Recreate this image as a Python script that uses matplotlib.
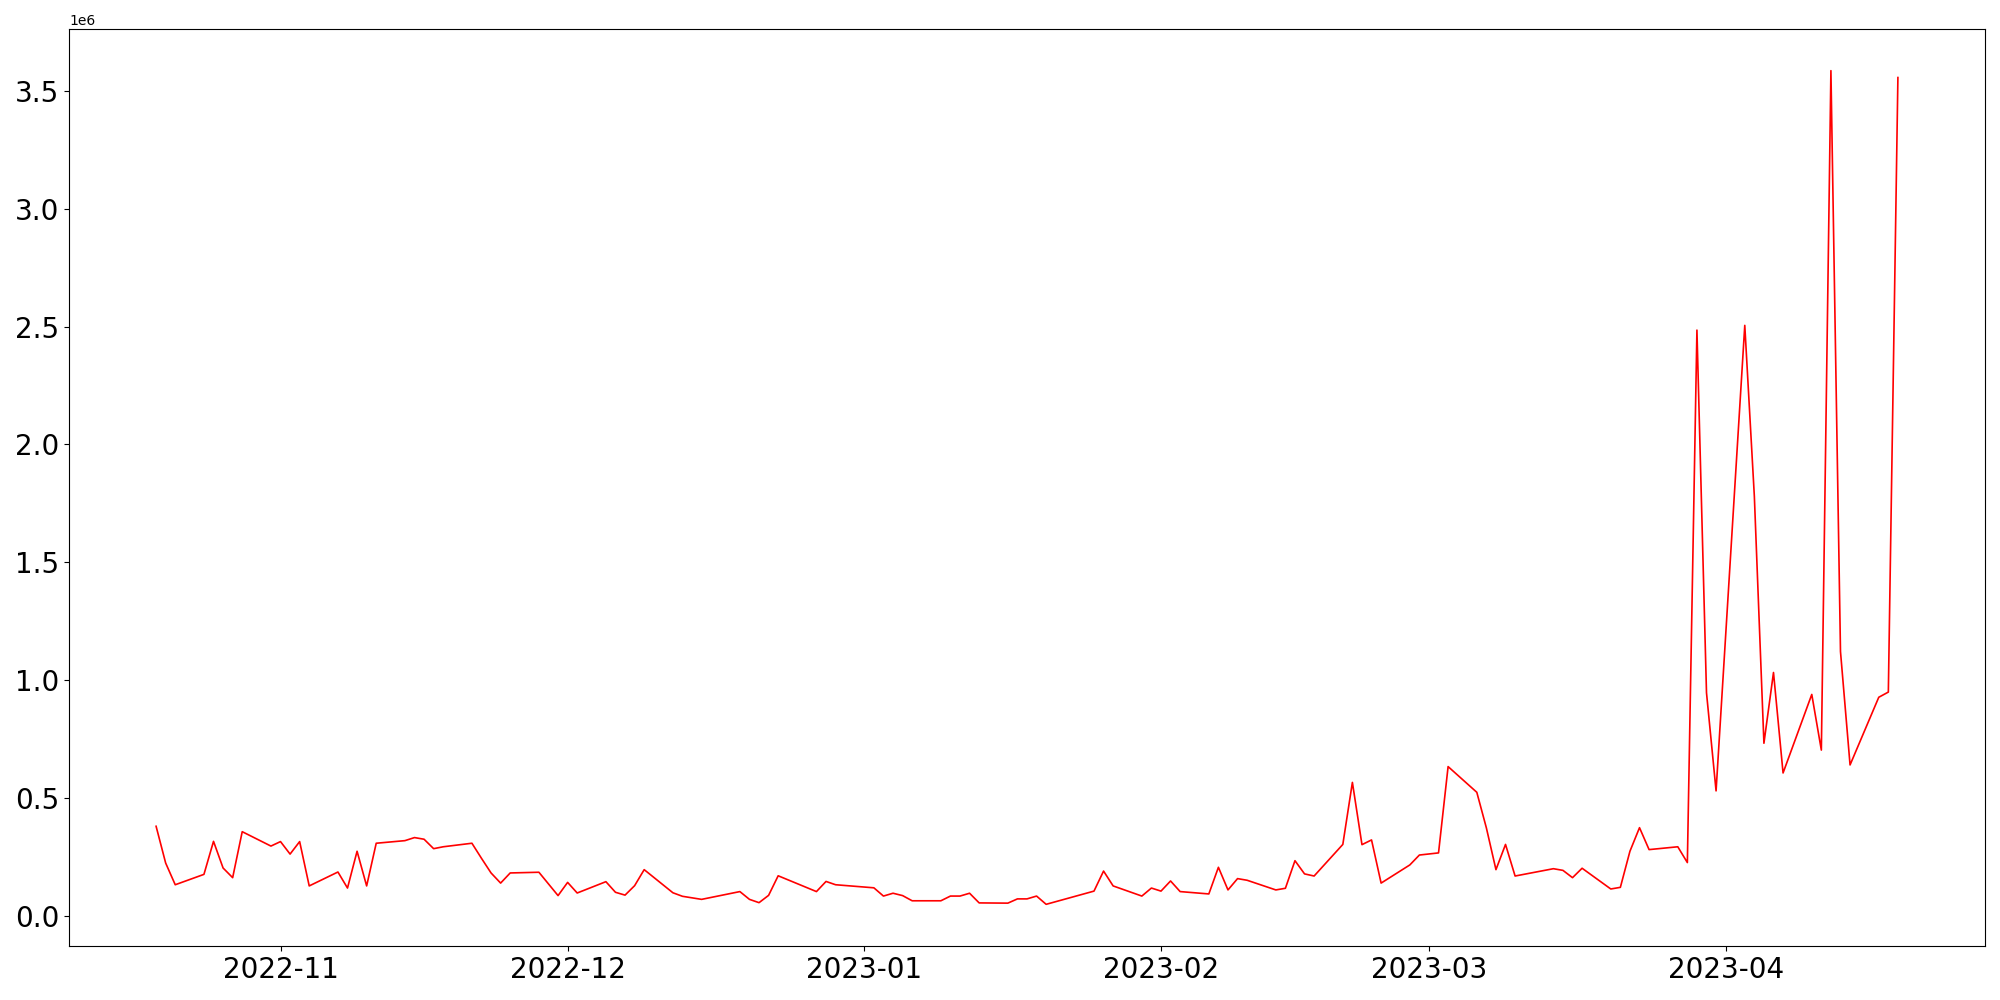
import numpy as np
import pandas as pd
import matplotlib
matplotlib.use("Agg")
import matplotlib.pyplot as plt

dates = [
    "2022-10-19", "2022-10-20", "2022-10-21", "2022-10-24", "2022-10-25", "2022-10-26",
    "2022-10-27", "2022-10-28", "2022-10-31", "2022-11-01", "2022-11-02", "2022-11-03",
    "2022-11-04", "2022-11-07", "2022-11-08", "2022-11-09", "2022-11-10", "2022-11-11",
    "2022-11-14", "2022-11-15", "2022-11-16", "2022-11-17", "2022-11-18", "2022-11-21",
    "2022-11-22", "2022-11-23", "2022-11-24", "2022-11-25", "2022-11-28", "2022-11-30",
    "2022-12-01", "2022-12-02", "2022-12-05", "2022-12-06", "2022-12-07", "2022-12-08",
    "2022-12-09", "2022-12-12", "2022-12-13", "2022-12-15", "2022-12-19", "2022-12-20",
    "2022-12-21", "2022-12-22", "2022-12-23", "2022-12-27", "2022-12-28", "2022-12-29",
    "2023-01-02", "2023-01-03", "2023-01-04", "2023-01-05", "2023-01-06", "2023-01-09",
    "2023-01-10", "2023-01-11", "2023-01-12", "2023-01-13", "2023-01-16", "2023-01-17",
    "2023-01-18", "2023-01-19", "2023-01-20", "2023-01-25", "2023-01-26", "2023-01-27",
    "2023-01-30", "2023-01-31", "2023-02-01", "2023-02-02", "2023-02-03", "2023-02-06",
    "2023-02-07", "2023-02-08", "2023-02-09", "2023-02-10", "2023-02-13", "2023-02-14",
    "2023-02-15", "2023-02-16", "2023-02-17", "2023-02-20", "2023-02-21", "2023-02-22",
    "2023-02-23", "2023-02-24", "2023-02-27", "2023-02-28", "2023-03-02", "2023-03-03",
    "2023-03-06", "2023-03-07", "2023-03-08", "2023-03-09", "2023-03-10", "2023-03-14",
    "2023-03-15", "2023-03-16", "2023-03-17", "2023-03-20", "2023-03-21", "2023-03-22",
    "2023-03-23", "2023-03-24", "2023-03-27", "2023-03-28", "2023-03-29", "2023-03-30",
    "2023-03-31", "2023-04-03", "2023-04-04", "2023-04-05", "2023-04-06", "2023-04-07",
    "2023-04-10", "2023-04-11", "2023-04-12", "2023-04-13", "2023-04-14", "2023-04-17",
    "2023-04-18", "2023-04-19",
]

# valores em milhoes
valores = [
    0.381, 0.225, 0.133, 0.177, 0.317, 0.204,
    0.163, 0.358, 0.297, 0.316, 0.263, 0.316,
    0.128, 0.187, 0.119, 0.275, 0.128, 0.309,
    0.320, 0.333, 0.326, 0.286, 0.294, 0.309,
    0.245, 0.183, 0.140, 0.183, 0.186, 0.087,
    0.143, 0.098, 0.146, 0.101, 0.089, 0.129,
    0.197, 0.099, 0.084, 0.071, 0.104, 0.071,
    0.057, 0.088, 0.171, 0.104, 0.147, 0.133,
    0.120, 0.085, 0.097, 0.087, 0.065, 0.065,
    0.085, 0.085, 0.097, 0.056, 0.055, 0.073,
    0.073, 0.085, 0.050, 0.106, 0.191, 0.128,
    0.085, 0.119, 0.106, 0.149, 0.104, 0.094,
    0.207, 0.111, 0.159, 0.152, 0.111, 0.118,
    0.235, 0.179, 0.170, 0.304, 0.567, 0.303,
    0.323, 0.140, 0.217, 0.259, 0.268, 0.634,
    0.525, 0.374, 0.197, 0.304, 0.170, 0.201,
    0.194, 0.163, 0.203, 0.115, 0.122, 0.275,
    0.375, 0.282, 0.294, 0.227, 2.485, 0.947,
    0.531, 2.505, 1.780, 0.733, 1.033, 0.607,
    0.940, 0.704, 3.585, 1.122, 0.641, 0.928,
    0.950, 3.556,
]

x = pd.to_datetime(dates)
y = np.array(valores) * 1e6

fig = plt.figure(figsize=(20, 10), dpi=100)
plt.plot(x, y, color="red", linewidth=1.2)
plt.xticks(fontsize=20)
plt.yticks(fontsize=20)
plt.subplots_adjust(left=0.0345, right=0.9925, top=0.971, bottom=0.054)
plt.savefig("out.png", dpi=100)
